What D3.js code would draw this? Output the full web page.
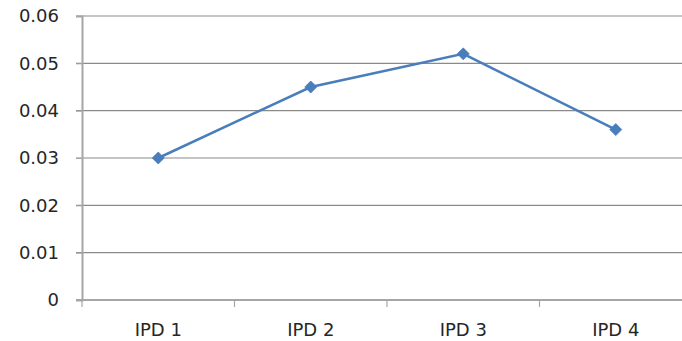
<!DOCTYPE html>
<html>
<head>
<meta charset="utf-8">
<script src="https://cdn.jsdelivr.net/npm/d3@7"></script>
<style>
  body { margin: 0; background: #fff; }
  svg { display: block; }
  .axis text { font-family: "DejaVu Sans", sans-serif; font-size: 18px; fill: #262626; }
</style>
</head>
<body>
<div id="chart"></div>
<script>
// datos
const categories = ["IPD 1", "IPD 2", "IPD 3", "IPD 4"]
const values = [0.030, 0.045, 0.052, 0.036]
const yTicks = [0, 0.01, 0.02, 0.03, 0.04, 0.05, 0.06]

const width = 682
const height = 341
const margin = { top: 16, left: 82, bottom: 41 }
const plotRight = 692 // el gráfico original sale cortado por la derecha

const svg = d3.select("#chart")
    .append("svg")
    .attr("width", width)
    .attr("height", height)

const x = d3.scaleBand()
    .domain(categories)
    .range([margin.left, plotRight])
    .padding(0)
const y = d3.scaleLinear()
    .domain([0, 0.06])
    .range([height - margin.bottom, margin.top])

// lineas de la rejilla
svg.append("g")
    .selectAll("line")
    .data(yTicks.filter(d => d > 0))
    .join("line")
    .attr("x1", margin.left - 6)
    .attr("x2", plotRight)
    .attr("y1", d => y(d))
    .attr("y2", d => y(d))
    .attr("stroke", "#8a8a8a")
    .attr("stroke-width", 1.2)

// eje y
const yAxis = d3.axisLeft(y)
    .tickValues(yTicks)
    .tickSize(6)
    .tickPadding(17)
    .tickFormat(d => d === 0 ? "0" : d3.format(".2f")(d))
svg.append("g")
    .attr("class", "axis")
    .attr("transform", `translate(${margin.left},0)`)
    .call(yAxis)
    .call(g => g.select(".domain").attr("stroke", "#a6a6a6").attr("stroke-width", 2))
    .call(g => g.selectAll(".tick line").attr("stroke", "#a6a6a6"))

// eje x
const xAxis = d3.axisBottom(x)
    .tickSize(0)
    .tickPadding(23)
svg.append("g")
    .attr("class", "axis")
    .attr("transform", `translate(0,${y(0)})`)
    .call(xAxis)
    .call(g => g.select(".domain").remove())

svg.append("line")
    .attr("x1", margin.left - 6)
    .attr("x2", plotRight)
    .attr("y1", y(0))
    .attr("y2", y(0))
    .attr("stroke", "#a6a6a6")
    .attr("stroke-width", 2)

// marcas entre categorias
svg.append("g")
    .selectAll("line")
    .data(categories.map(c => x(c)).concat([plotRight]))
    .join("line")
    .attr("x1", d => d)
    .attr("x2", d => d)
    .attr("y1", y(0))
    .attr("y2", y(0) + 7)
    .attr("stroke", "#a6a6a6")
    .attr("stroke-width", 1.2)

// serie
const cx = (d, i) => x(categories[i]) + x.bandwidth() / 2
const line = d3.line()
    .x(cx)
    .y(d => y(d))

svg.append("path")
    .datum(values)
    .attr("d", line)
    .attr("fill", "none")
    .attr("stroke", "#4a7ebb")
    .attr("stroke-width", 2.5)

svg.append("g")
    .selectAll("path")
    .data(values)
    .join("path")
    .attr("transform", (d, i) => `translate(${cx(d, i)},${y(d)})`)
    .attr("d", "M0,-6L6,0L0,6L-6,0Z")
    .attr("fill", "#4a7ebb")
    .attr("stroke", "#4a7ebb")
    .attr("stroke-width", 0.8)
</script>
</body>
</html>
